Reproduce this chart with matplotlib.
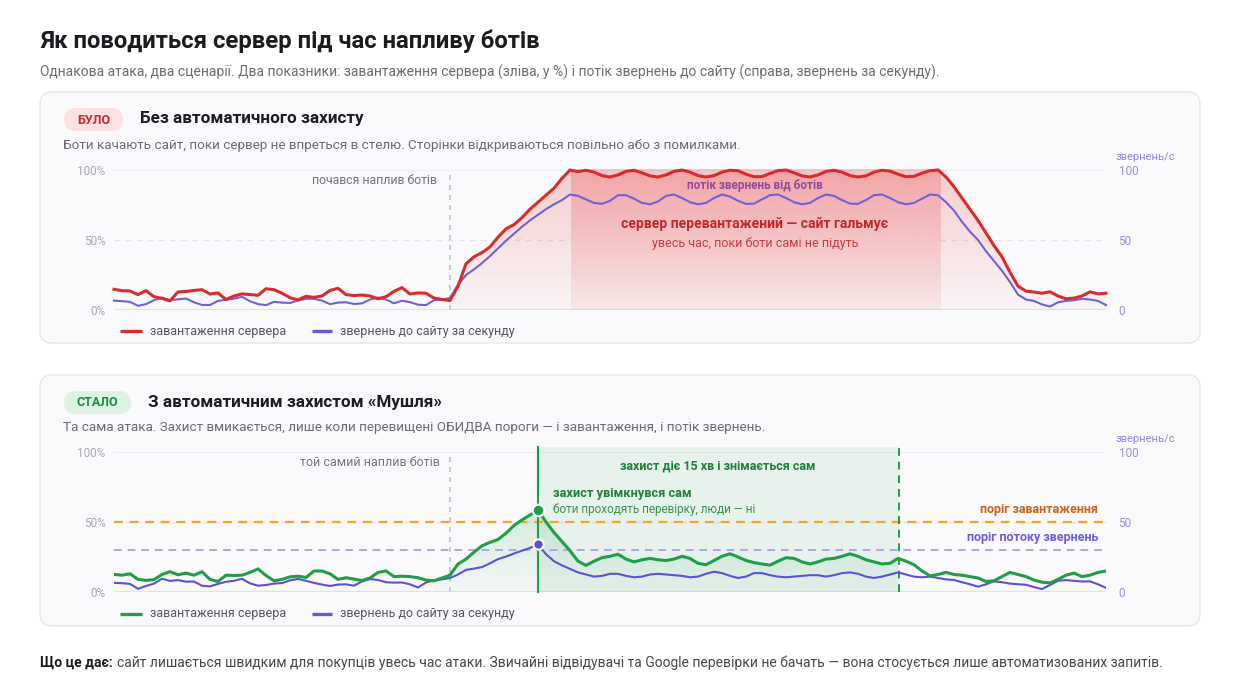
import numpy as np
import matplotlib
matplotlib.use("Agg")
import matplotlib.pyplot as plt
from matplotlib.patches import FancyBboxPatch
from matplotlib.colors import to_rgb

plt.rcParams['font.family'] = ['Roboto', 'DejaVu Sans']

# ---- data (one sample per time step) ----
load_before = [14.8, 13.8, 13.6, 11, 13.8, 9.5, 8.3, 6.5, 12.9, 13.2, 14, 14.5, 11.4, 12.2, 7.5, 10, 11.5, 11,
               10.5, 15.2, 14.5, 12, 8.8, 7.2, 9.8, 9, 10, 14, 15.5, 11, 10.3, 10.7, 10, 8, 9.5, 13.3, 16, 11.4,
               12.2, 12, 8.5, 7.5, 6.8,
               17, 33, 38, 41, 45, 52, 58, 61, 66, 72, 77, 82, 87, 94,
               100, 98.8, 99.8, 98.5, 96, 95, 96.5, 99, 99.8, 98, 95.8, 95, 96.5, 99, 100, 98.5, 96, 95, 96,
               98.5, 99.8, 99.5, 97, 95.2, 95.3, 97.5, 99.5, 100, 98, 95.8, 95, 96.5, 99, 99.8, 98.5, 96, 95,
               95.8, 98.5, 99.8, 99.2, 97, 95.2, 95.5, 97.8, 99.5, 100,
               95, 88, 80, 72, 64, 55, 46, 38, 27, 17, 13.5, 12.8, 12, 13, 10, 8, 8.5, 10, 13, 11.5, 12]
req_before = [6.7, 6.3, 5.8, 3, 4.2, 7, 8.8, 7, 7.6, 8.2, 5.5, 3.6, 3.6, 6.5, 7.3, 8.1, 9.4, 6.3, 4.2, 3.5,
              5.8, 5.3, 5, 6.8, 8, 8, 6.7, 4.2, 5.3, 5.5, 4.3, 4.7, 7.5, 8.9, 7.5, 4.8, 6.6, 5.6, 3.8, 3.5, 7,
              7.5, 8.5,
              18, 25, 29, 33.5, 38.5, 44, 49.5, 54.5, 59.5, 64, 68, 72, 75.5, 78.5,
              82.5, 81.5, 79, 76.5, 75.8, 78, 82, 82, 79.5, 76.5, 75.5, 77.5, 81.5, 82.5, 80, 77, 75.5, 76.5,
              80, 82.5, 81, 78, 75.8, 76, 79, 82, 82.5, 80, 77, 75.5, 76.5, 80, 82.5, 81.5, 78.5, 76, 75.8,
              78.5, 82, 82.5, 80, 77, 75.5, 76.5, 79.5, 82.5, 82,
              77, 71, 63, 56, 50, 42, 35, 28, 20, 11, 7.5, 6.5, 4, 2.5, 5.5, 6.5, 7, 8, 7.5, 6.5, 3.5]
load_after = [12.6, 12, 13, 9, 8.3, 8.8, 12.5, 14.5, 12.3, 13.5, 12, 14.5, 9, 7.5, 12, 11.8, 12, 14, 16.5,
              11.8, 8, 9, 10.8, 11.3, 10.4, 15, 15, 13, 9, 10.2, 9.2, 8.2, 10, 14, 15, 11, 11.3, 11, 10.2,
              8.5, 8, 10, 12,
              20, 23.5, 28.5, 33, 35.5, 37.5, 42, 47.5, 51.5, 55, 58.5,
              50, 42.5, 36, 29.5, 22, 19, 22, 24.5, 25.5, 27, 23.5, 21.5, 23, 24, 23, 22.5, 23.5, 25.5, 24,
              20.5, 19.5, 22.5, 25.5, 27.3, 25, 22.5, 21, 20, 19.2, 22, 24.5, 24, 21.5, 20, 21.5, 23.5, 24,
              25.5, 27.3, 25.5, 23, 21.5, 20, 20.5, 24, 22, 19.5, 15, 11.5, 12.5, 14, 12.5, 12, 11, 10, 7.5,
              8, 11, 14, 12.5, 11, 8.5, 7, 6.5, 9, 12, 13.5, 11, 12, 14, 15]
req_after = [6.5, 6.3, 5.8, 2.3, 4.3, 6, 9.5, 7.9, 8.5, 7.4, 7.5, 4.5, 4, 5.8, 7.3, 8, 9.4, 6.2, 4.5, 5, 6,
             6.4, 8.3, 9.3, 8, 6.5, 5.3, 4.3, 5.3, 5.5, 4.5, 7.5, 9.2, 8.6, 7, 6.7, 6.8, 5.5, 3.2, 6.8, 8.4,
             9, 10,
             12.5, 15.8, 16.7, 17.8, 20.5, 23.5, 25.3, 27.5, 29.5, 31.5, 34,
             27, 22, 19, 16.5, 14, 12.5, 11, 11.5, 13, 13, 11.5, 10.5, 11, 12.5, 13, 12.5, 12, 11.5, 10.5,
             11, 13, 14.5, 13.5, 11.5, 10, 11, 13.5, 13.5, 12, 11, 10.5, 11, 11.5, 12, 12, 11, 12, 13.5, 14,
             13, 11, 10, 11, 12.5, 14, 12.5, 11, 10.5, 11, 10, 9, 8.6, 7, 5.5, 3.8, 5.5, 7.6, 7, 6, 5.5,
             5.2, 3.5, 2.1, 5, 8, 8.5, 8, 7.5, 7.6, 5.5, 3]

for s in (load_before, req_before, load_after, req_after):
    assert len(s) == 125, len(s)

t = np.arange(125)
bots_start = 42
overload_from, overload_to = 57.1, 103.25
shield_on, shield_off = 53, 98.1
load_limit = 50
req_limit = 30

RED = '#d92b2b'
PURPLE = '#6659d8'
GREEN = '#1f9d48'

fig = plt.figure(figsize=(12.4, 6.9), dpi=100)
fig.patch.set_facecolor('white')

# background canvas in pixel units
bg = fig.add_axes([0, 0, 1, 1], zorder=0)
bg.set_xlim(0, 1240)
bg.set_ylim(690, 0)
bg.axis('off')


def grad_fill(ax, x, y, color, a_top, a_bot, zorder=1):
    poly = ax.fill_between(x, y, 0, color='none', lw=0)
    img = np.zeros((256, 1, 4))
    img[..., :3] = to_rgb(color)
    img[..., 3] = np.linspace(a_bot, a_top, 256)[:, None]
    im = ax.imshow(img, extent=[x[0], x[-1], 0, 100], origin='lower', aspect='auto',
                   zorder=zorder, interpolation='bilinear')
    im.set_clip_path(poly.get_paths()[0], transform=ax.transData)


def grad_rect(ax, x0, x1, color, a_top, a_bot, top=100, zorder=0.5):
    img = np.zeros((256, 1, 4))
    img[..., :3] = to_rgb(color)
    img[..., 3] = np.linspace(a_bot, a_top, 256)[:, None]
    im = ax.imshow(img, extent=[x0, x1, 0, top], origin='lower', aspect='auto',
                   zorder=zorder, interpolation='bilinear')
    im.set_clip_on(False)


def setup_panel(top_px, gap=None):
    ax = fig.add_axes([114 / 1240, 1 - (top_px + 140) / 690, 992 / 1240, 140 / 690], zorder=2)
    ax.set_facecolor('none')
    for sp in ax.spines.values():
        sp.set_visible(False)
    ax.set_xticks([])
    ax.set_yticks([0, 50, 100])
    ax.set_yticklabels(['0%', '50%', '100%'])
    ax.tick_params(axis='y', length=0, pad=6, labelsize=8.5, labelcolor='#a8a8b0')
    ax.axhline(100, color='#ebebf0', lw=1.2, zorder=0.2)
    if gap is None:
        ax.axhline(50, color='#e4e4ea', lw=1, ls=(0, (4, 4)), zorder=0.2)
    else:
        ax.hlines([50, 50], [0, gap[1]], [gap[0], 124], color='#e4e4ea', lw=1, ls=(0, (4, 4)), zorder=0.2)
    ax.axhline(0, color='#e2e2e8', lw=1.6, zorder=0.2)
    axr = ax.twinx()
    axr.set_ylim(0, 100)
    axr.set_yticks([0, 50, 100])
    axr.set_yticklabels(['0', '50', '100'])
    axr.tick_params(axis='y', length=0, pad=9, labelsize=8.5, labelcolor='#9690e0')
    for sp in axr.spines.values():
        sp.set_visible(False)
    bg.text(1116, top_px - 13, 'звернень/с', fontsize=8, color='#8d86de', va='center', ha='left')
    return ax


def card(y0, badge, badge_w, badge_fc, badge_c, title, desc, legend_color):
    bg.add_patch(FancyBboxPatch((40, y0), 1160, 251, boxstyle='round,pad=0,rounding_size=12',
                                fc='#fafafc', ec='#e7e7ec', lw=1))
    bg.add_patch(FancyBboxPatch((64, y0 + 16), badge_w, 23, boxstyle='round,pad=0,rounding_size=11.5',
                                fc=badge_fc, ec='none'))
    bg.text(64 + badge_w / 2, y0 + 28, badge, fontsize=9, weight='bold', color=badge_c, ha='center', va='center')
    bg.text(64 + badge_w + 17, y0 + 27, title, fontsize=12.3, weight='bold', color='#1c1c21', va='center')
    bg.text(63, y0 + 53, desc, fontsize=9.7, color='#6b6b73', va='center')
    ly = y0 + 239
    bg.plot([120, 142], [ly, ly], color=legend_color, lw=2.4, solid_capstyle='butt')
    bg.text(150, ly, 'завантаження сервера', fontsize=9, color='#55555c', va='center')
    bg.plot([312, 332], [ly, ly], color=PURPLE, lw=2.4, solid_capstyle='butt')
    bg.text(340, ly, 'звернень до сайту за секунду', fontsize=9, color='#55555c', va='center')


# ---- header ----
bg.text(40, 41, 'Як поводиться сервер під час напливу ботів', fontsize=17.2, weight='bold',
        color='#1b1b20', va='center')
bg.text(40, 72, 'Однакова атака, два сценарії. Два показники: завантаження сервера (зліва, у %) '
        'і потік звернень до сайту (справа, звернень за секунду).', fontsize=10, color='#6b6b73', va='center')

# ---- panel 1: before ----
card(92, 'БУЛО', 59, '#fde1e1', '#c6282c', 'Без автоматичного захисту',
     'Боти качають сайт, поки сервер не впреться в стелю. Сторінки відкриваються повільно або з помилками.', RED)
ax1 = setup_panel(170, gap=(overload_from, overload_to))
grad_rect(ax1, overload_from, overload_to, '#e94b4b', 0.3, 0.08, top=100.5)
grad_fill(ax1, t[bots_start:], np.array(load_before[bots_start:]), '#e94b4b', 0.26, 0.03, zorder=1)
ax1.axvline(bots_start, color='#c2c2c8', lw=1.2, ls=(0, (3, 3)), zorder=1.5)
ax1.plot(t, req_before, color='#6f62d8', lw=1.5, zorder=3, clip_on=False)
ax1.plot(t, load_before, color=RED, lw=2.2, zorder=4, clip_on=False, solid_joinstyle='round')
ax1.set_xlim(0, 124)
ax1.set_ylim(0, 100)
bg.text(437, 180, 'почався наплив ботів', fontsize=8.8, color='#75757d', ha='right', va='center')
bg.text(755, 185, 'потік звернень від ботів', fontsize=8.5, weight='bold', color='#5547df',
        ha='center', va='center')
bg.text(755, 224, 'сервер перевантажений — сайт гальмує', fontsize=10.1, weight='bold', color='#a8191d',
        ha='center', va='center')
bg.text(755, 244, 'увесь час, поки боти самі не підуть', fontsize=9, color='#b43a3a', ha='center', va='center')

# ---- panel 2: after ----
card(375, 'СТАЛО', 67, '#dcf3e3', '#1d8a3f', 'З автоматичним захистом «Мушля»',
     'Та сама атака. Захист вмикається, лише коли перевищені ОБИДВА пороги — і завантаження, і потік звернень.',
     GREEN)
ax2 = setup_panel(452)
ax2.axvspan(shield_on, shield_off, ymin=0, ymax=1.036, color='#2aa55a', alpha=0.09, lw=0, zorder=0.5,
            clip_on=False)
grad_fill(ax2, t[40:99], np.array(load_after[40:99]), '#2aa55a', 0.3, 0.03, zorder=1)
ax2.axvline(bots_start, color='#c2c2c8', lw=1.2, ls=(0, (3, 3)), zorder=1.5)
ax2.axhline(load_limit, color='#f0a81c', lw=1.6, ls=(0, (4, 3)), zorder=2)
ax2.axhline(req_limit, color='#aca6ea', lw=1.4, ls=(0, (4, 3)), zorder=2)
ax2.axvline(shield_on, ymax=1.036, color=GREEN, lw=1.5, zorder=2.5, clip_on=False)
ax2.axvline(shield_off, ymax=1.036, color=GREEN, lw=1.4, ls=(0, (4, 3)), zorder=2.5, clip_on=False)
ax2.plot(t, req_after, color='#5b50d6', lw=1.5, zorder=3)
ax2.plot(t, load_after, color=GREEN, lw=2.2, zorder=4, solid_joinstyle='round')
ax2.scatter([shield_on], [load_after[shield_on]], s=70, color=GREEN, edgecolor='white', lw=1.5, zorder=6)
ax2.scatter([shield_on], [req_after[shield_on]], s=55, color='#5b50d6', edgecolor='white', lw=1.5, zorder=6)
ax2.set_xlim(0, 124)
ax2.set_ylim(0, 100)
bg.text(440, 462, 'той самий наплив ботів', fontsize=9, color='#75757d', ha='right', va='center')
bg.text(718, 466, 'захист діє 15 хв і знімається сам', fontsize=9, weight='bold', color='#1e7e38',
        ha='center', va='center')
bg.text(553, 494, 'захист увімкнувся сам', fontsize=9.2, weight='bold', color='#1e7e38', va='center')
bg.text(553, 510, 'боти проходять перевірку, люди — ні', fontsize=8.5, color='#3b8f55', va='center')
bg.text(1098, 509, 'поріг завантаження', fontsize=9, weight='bold', color='#c8641a', ha='right', va='center')
bg.text(1098, 537, 'поріг потоку звернень', fontsize=9, weight='bold', color='#6a5fd6', ha='right', va='center')

# ---- footer ----
f1 = bg.text(40, 663, 'Що це дає:', fontsize=10, weight='bold', color='#1b1b20', va='center')
fig.canvas.draw()
x_end = f1.get_window_extent().x1
bg.text(x_end + 4, 663, 'сайт лишається швидким для покупців увесь час атаки. Звичайні відвідувачі та Google '
        'перевірки не бачать — вона стосується лише автоматизованих запитів.', fontsize=10,
        color='#45454c', va='center')

fig.savefig('out.png', dpi=100)
